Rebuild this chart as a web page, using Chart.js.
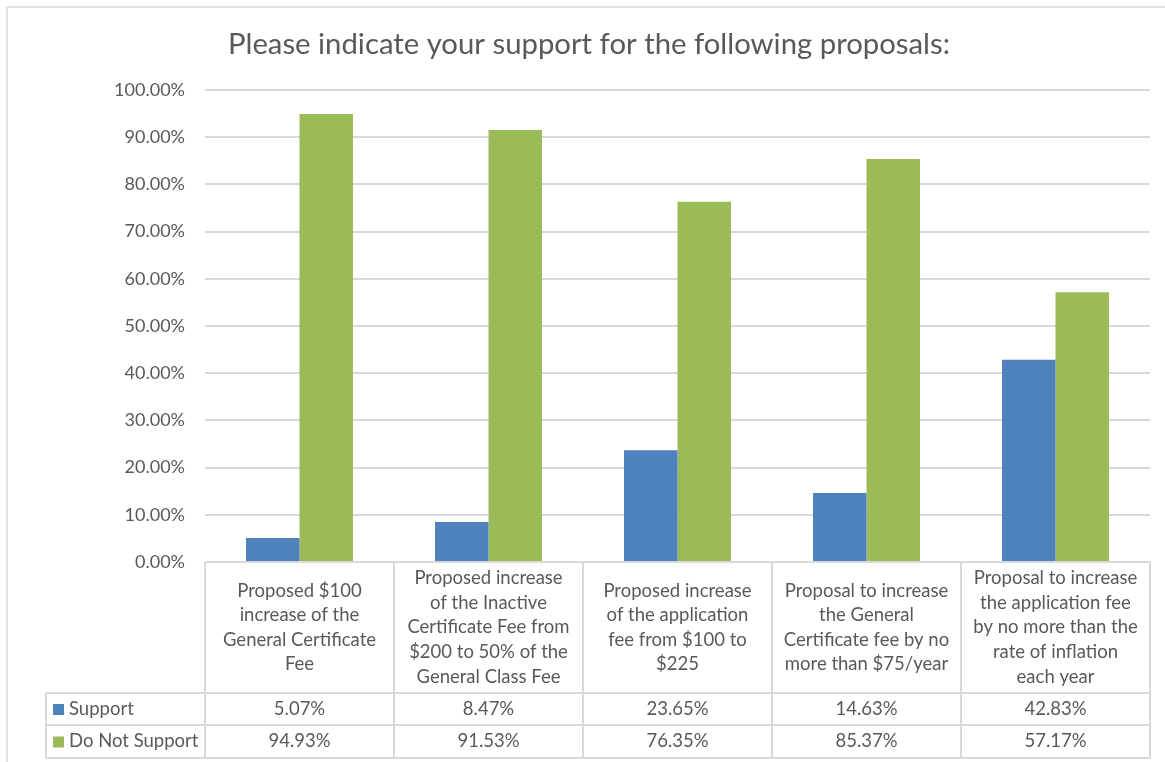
<!DOCTYPE html>
<html>
<head>
<meta charset="utf-8">
<script src="https://cdn.jsdelivr.net/npm/chart.js@4"></script>
<style>
  html, body { margin: 0; padding: 0; background: #fff; }
  #wrap { position: relative; width: 1165px; height: 762px; }
</style>
</head>
<body>
<div id="wrap"><canvas id="grafico"></canvas></div>
<script>
// categorias y valores (%)
const categorias = [
  ["Proposed $100", "increase of the", "General Certificate", "Fee"],
  ["Proposed increase", "of the Inactive", "Certificate Fee from", "$200 to 50% of the", "General Class Fee"],
  ["Proposed increase", "of the application", "fee from $100 to", "$225"],
  ["Proposal to increase", "the General", "Certificate fee by no", "more than $75/year"],
  ["Proposal to increase", "the application fee", "by no more than the", "rate of inflation", "each year"]
];
const apoyo = [5.07, 8.47, 23.65, 14.63, 42.83];
const noApoyo = [94.93, 91.53, 76.35, 85.37, 57.17];
const titulo = "Please indicate your support for the following proposals:";

const FUENTE = "Lato, 'Open Sans', sans-serif";
const GRIS = "#595959";
const LINEA = "#d9d9d9";

const tablaDatos = {
  id: "tablaDatos",
  afterDraw(chart) {
    const ctx = chart.ctx;
    const x = chart.scales.x;
    const area = chart.chartArea;
    const izq = 46;
    const yCab = area.bottom;
    const yFila1 = 693, yFila2 = 725, yFin = 758;
    const n = categorias.length;
    const ancho = (area.right - area.left) / n;

    ctx.save();
    // borde exterior (cortado a la derecha y abajo)
    ctx.strokeStyle = LINEA;
    ctx.lineWidth = 1.5;
    ctx.beginPath();
    ctx.moveTo(7, 770); ctx.lineTo(7, 7); ctx.lineTo(1170, 7);
    ctx.stroke();

    // titulo
    ctx.fillStyle = GRIS;
    ctx.font = "29.3px " + FUENTE;
    ctx.textAlign = "center";
    ctx.textBaseline = "middle";
    ctx.fillText(titulo, 589, 45);

    // lineas de la tabla
    ctx.strokeStyle = LINEA;
    ctx.lineWidth = 2;
    ctx.beginPath();
    ctx.moveTo(area.left, yCab); ctx.lineTo(area.right, yCab);
    [yFila1, yFila2, yFin].forEach(y => { ctx.moveTo(izq, y); ctx.lineTo(area.right, y); });
    for (let i = 0; i <= n; i++) {
      const xx = area.left + i * ancho;
      ctx.moveTo(xx, yCab); ctx.lineTo(xx, yFin);
    }
    ctx.moveTo(izq, yFila1); ctx.lineTo(izq, yFin);
    ctx.stroke();

    // cabeceras de categoria
    ctx.fillStyle = GRIS;
    ctx.font = "18.5px " + FUENTE;
    const alto = 24.6;
    categorias.forEach((lineas, i) => {
      const cx = x.getPixelForValue(i);
      const cy = (yCab + yFila1) / 2;
      const y0 = cy - (lineas.length - 1) * alto / 2;
      lineas.forEach((t, j) => ctx.fillText(t, cx, y0 + j * alto));
    });

    // filas de valores
    const filas = [
      { nombre: "Support", color: chart.data.datasets[0].backgroundColor, datos: apoyo, y: (yFila1 + yFila2) / 2 },
      { nombre: "Do Not Support", color: chart.data.datasets[1].backgroundColor, datos: noApoyo, y: (yFila2 + yFin) / 2 }
    ];
    filas.forEach(f => {
      ctx.fillStyle = f.color;
      ctx.fillRect(53, f.y - 5, 11, 11);
      ctx.fillStyle = GRIS;
      ctx.textAlign = "left";
      ctx.fillText(f.nombre, 69, f.y);
      ctx.textAlign = "center";
      f.datos.forEach((v, i) => ctx.fillText(v.toFixed(2) + "%", x.getPixelForValue(i), f.y));
    });
    ctx.restore();
  }
};

const ctx = document.getElementById("grafico").getContext("2d");
new Chart(ctx, {
  type: "bar",
  data: {
    labels: categorias.map(c => c.join(" ")),
    datasets: [
      { label: "Support", data: apoyo, backgroundColor: "#4f81bd" },
      { label: "Do Not Support", data: noApoyo, backgroundColor: "#9bbb59" }
    ]
  },
  options: {
    responsive: true,
    maintainAspectRatio: false,
    animation: false,
    layout: { padding: { left: 0, top: 90, right: 15, bottom: 200 } },
    plugins: {
      legend: { display: false },
      title: { display: false },
      tooltip: { enabled: false }
    },
    datasets: {
      bar: { barPercentage: 1, categoryPercentage: 0.566 }
    },
    scales: {
      x: {
        display: false
      },
      y: {
        min: 0,
        max: 100,
        afterFit(scale) { scale.width = 205; },
        border: { display: false },
        grid: { color: LINEA, lineWidth: 2, drawTicks: false },
        ticks: {
          stepSize: 10,
          padding: 20,
          color: GRIS,
          font: { family: FUENTE, size: 18 },
          callback: v => v.toFixed(2) + "%"
        }
      }
    }
  },
  plugins: [tablaDatos]
});
</script>
</body>
</html>
